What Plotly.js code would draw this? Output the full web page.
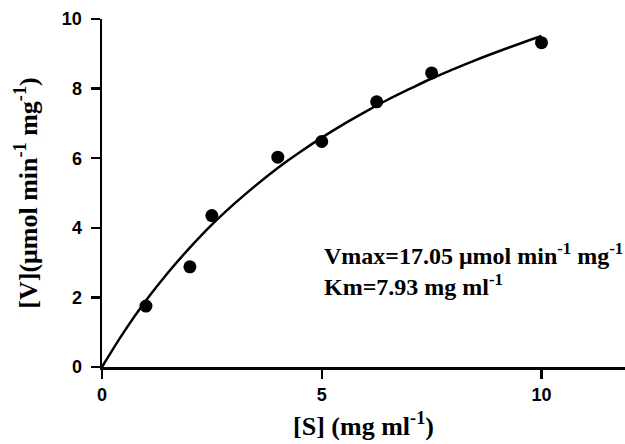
<!DOCTYPE html>
<html>
<head>
<meta charset="utf-8">
<script src="https://cdn.plot.ly/plotly-3.0.1.min.js"></script>
<style>html,body{margin:0;padding:0;background:#fff;}#chart{width:625px;height:444px;}</style>
</head>
<body>
<div id="chart"></div>
<script>
// Measured substrate concentrations and velocities
const substrate = [1, 2, 2.5, 4, 5, 6.25, 7.5, 10];
const velocity = [1.75, 2.88, 4.35, 6.03, 6.48, 7.62, 8.45, 9.32];
// Fitted curve
const fitX = [0, 0.5, 1, 1.5, 2, 2.5, 3, 3.5, 4, 4.5, 5, 5.5, 6, 6.5, 7, 7.5, 8, 8.5, 9, 9.5, 10];
const fitY = [0, 1.01, 1.91, 2.71, 3.43, 4.09, 4.68, 5.22, 5.72, 6.17, 6.59, 6.98, 7.34, 7.68, 7.99, 8.29, 8.56, 8.82, 9.06, 9.29, 9.51];
const xTicks = [0, 5, 10];
const yTicks = [0, 2, 4, 6, 8, 10];
const xTitle = '<b>[S] (mg ml<sup>-1</sup>)</b>';
const yTitle = '<b>[V](μmol min<sup>-1</sup> mg<sup>-1</sup>)</b>';
const fitText = '<b>Vmax=17.05 μmol min<sup>-1</sup> mg<sup>-1</sup><br>Km=7.93 mg ml<sup>-1</sup></b>';

const traces = [
  {x: fitX, y: fitY, mode: 'lines', line: {color: '#000', width: 2.5, shape: 'spline'}, hoverinfo: 'none'},
  {x: substrate, y: velocity, mode: 'markers', marker: {color: '#000', size: 13}, hoverinfo: 'none'}
];

const serif = 'Liberation Serif, Times New Roman, serif';

const layout = {
  width: 625, height: 444,
  margin: {l: 102, r: 0, t: 19, b: 77},
  paper_bgcolor: '#fff', plot_bgcolor: '#fff',
  showlegend: false,
  font: {family: 'Arial, Liberation Sans, sans-serif', size: 18, color: '#000', weight: 'bold'},
  xaxis: {
    showgrid: false, zeroline: false, showline: true, linecolor: '#000', linewidth: 2.5,
    ticks: 'outside', ticklen: 9, tickwidth: 2.5, tickcolor: '#000',
    tickfont: {family: 'Arial, Liberation Sans, sans-serif', size: 18, color: '#000', weight: 'bold'},
    automargin: false,
    range: [0, 11.9], tickmode: 'array', tickvals: xTicks, ticktext: xTicks.map(String),
    ticklabelstandoff: 1,
    title: {text: xTitle, font: {family: serif, size: 26, color: '#000', weight: 'normal'}, standoff: 13}
  },
  yaxis: {
    showgrid: false, zeroline: false, showline: true, linecolor: '#000', linewidth: 2.5,
    ticks: 'outside', ticklen: 9, tickwidth: 2.5, tickcolor: '#000',
    tickfont: {family: 'Arial, Liberation Sans, sans-serif', size: 18, color: '#000', weight: 'bold'},
    automargin: false,
    range: [0, 10], tickmode: 'array', tickvals: yTicks, ticktext: yTicks.map(String),
    ticklabelstandoff: 5,
    title: {text: yTitle, font: {family: serif, size: 26, color: '#000', weight: 'normal'}, standoff: 17}
  },
  annotations: [{
    xref: 'paper', yref: 'paper', x: 0.42, y: 0.279, xanchor: 'left', yanchor: 'middle', align: 'left',
    text: fitText, showarrow: false,
    font: {family: serif, size: 24, color: '#000', weight: 'normal'}
  }]
};

Plotly.newPlot('chart', traces, layout, {staticPlot: true, displayModeBar: false});
</script>
</body>
</html>
